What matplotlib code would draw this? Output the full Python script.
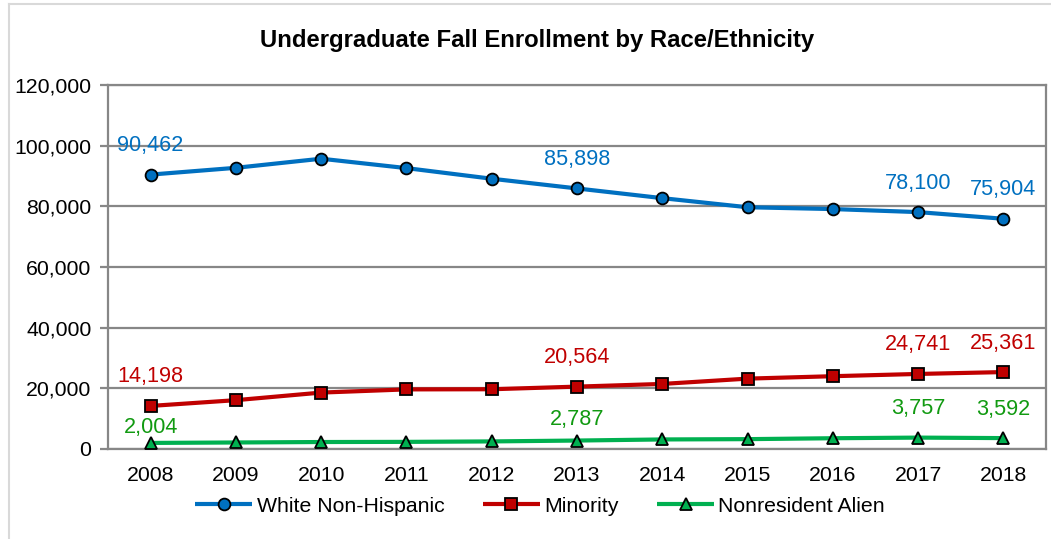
import matplotlib
matplotlib.use("Agg")
import matplotlib.pyplot as plt
from matplotlib.ticker import FuncFormatter
from matplotlib.lines import Line2D

plt.rcParams['font.family'] = ['Liberation Sans', 'DejaVu Sans']

years = ['2008', '2009', '2010', '2011', '2012', '2013', '2014', '2015', '2016', '2017', '2018']
white = [90462, 92700, 95700, 92600, 89100, 85898, 82700, 79700, 79100, 78100, 75904]
minority = [14198, 16100, 18600, 19650, 19700, 20564, 21450, 23200, 24000, 24741, 25361]
nonres = [2004, 2150, 2300, 2350, 2500, 2787, 3150, 3250, 3550, 3757, 3592]
labeled_idx = [0, 5, 9, 10]
series_names = ['White Non-Hispanic', 'Minority', 'Nonresident Alien']

W, H = 1051, 539
fig = plt.figure(figsize=(W / 100, H / 100), dpi=100)
ax = fig.add_axes([108 / W, (H - 449) / H, (1046 - 108) / W, (449 - 85) / H])

# outer chart border
fig.add_artist(Line2D([9 / W, 9 / W], [0, (H - 4) / H], transform=fig.transFigure,
                      color='#D9D9D9', lw=1.5))
fig.add_artist(Line2D([9 / W, 1], [(H - 4) / H, (H - 4) / H], transform=fig.transFigure,
                      color='#D9D9D9', lw=1.5))

x = list(range(len(years)))
blue, red, green = '#0070C0', '#C00000', '#00B050'
lab_green = '#119A11'
FS = 15.3

styles = [
    (white, blue, 'o', blue, [29, 29, 29, 29], 8.5),
    (minority, red, 's', red, [29, 29, 29, 29], 8.0),
    (nonres, green, '^', lab_green, [15, 21, 29, 29], 8.0),
]
handles = []
for (vals, col, mk, lcol, offs, ms), name in zip(styles, series_names):
    h, = ax.plot(x, vals, color=col, lw=3.0, marker=mk, markersize=ms,
                 markerfacecolor=col, markeredgecolor='black', markeredgewidth=1.3,
                 label=name, zorder=3, solid_capstyle='butt')
    handles.append(h)
    for i, off in zip(labeled_idx, offs):
        ax.annotate(f"{vals[i]:,}", (x[i], vals[i]), xytext=(0, off),
                    textcoords='offset pixels', ha='center', va='center',
                    color=lcol, fontsize=FS + 0.3, zorder=4)

ax.set_xlim(-0.5, len(years) - 0.5)
ax.set_ylim(0, 120000)
ax.set_yticks(range(0, 120001, 20000))
ax.yaxis.set_major_formatter(FuncFormatter(lambda v, p: f"{int(v):,}"))
ax.set_xticks(x)
ax.set_xticklabels(years)
ax.grid(axis='y', color='#878787', lw=1.6)
ax.set_axisbelow(True)
for s in ax.spines.values():
    s.set_color('#878787')
    s.set_linewidth(1.6)
ax.tick_params(axis='y', length=6, width=1.6, color='#878787', labelsize=FS, pad=6)
ax.tick_params(axis='x', length=0, labelsize=FS, pad=12)

fig.text(537 / W, (H - 40) / H, 'Undergraduate Fall Enrollment by Race/Ethnicity',
         ha='center', va='center', fontsize=17.2, fontweight='bold')

fig.legend(handles=handles, loc='center', bbox_to_anchor=(540 / W, (H - 506) / H),
           ncol=3, frameon=False, fontsize=FS, handlelength=2.7, handletextpad=0.2,
           columnspacing=1.8, borderpad=0)

fig.savefig('out.png', dpi=100)
